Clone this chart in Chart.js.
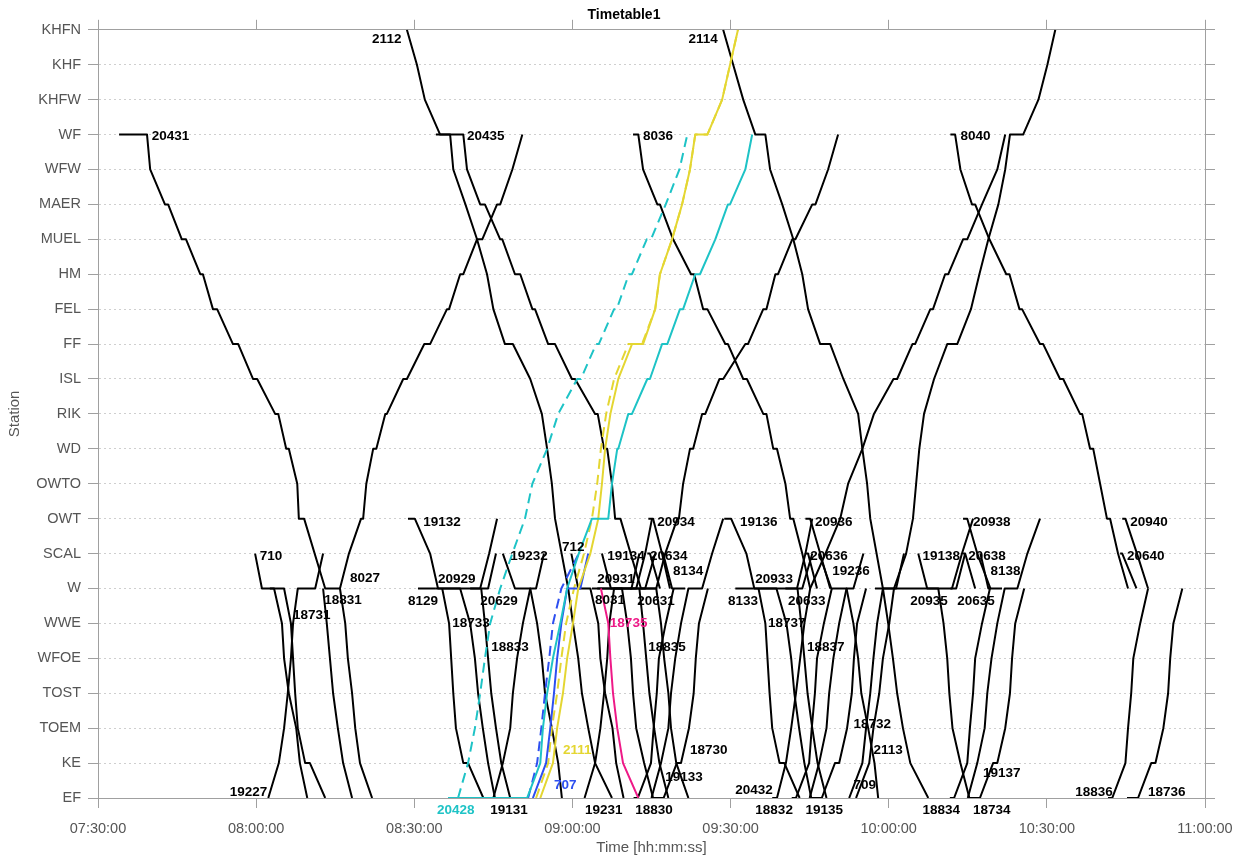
<!DOCTYPE html>
<html>
<head>
<meta charset="utf-8">
<title>Timetable1</title>
<script src="https://cdn.jsdelivr.net/npm/chart.js@4.4.1/dist/chart.umd.min.js"></script>
<style>
  html, body { margin: 0; padding: 0; background: #fff; }
</style>
</head>
<body>
<canvas id="timetable" width="1248" height="861"></canvas>
<script>
// stations, bottom (EF) to top (KHFN)
const stations = ["EF", "KE", "TOEM", "TOST", "WFOE", "WWE", "W", "SCAL", "OWT", "OWTO", "WD",
  "RIK", "ISL", "FF", "FEL", "HM", "MUEL", "MAER", "WFW", "WF", "KHFW", "KHF", "KHFN"];

const timeTicks = ["07:30:00", "08:00:00", "08:30:00", "09:00:00", "09:30:00", "10:00:00", "10:30:00", "11:00:00"];

// black train runs: [train, "STATION h:mm.m, ..."]
const blackRuns = [
  ["20431", "WF 7:34.0, WF 7:39.3, WFW 7:39.9, MAER 7:42.7, MAER 7:43.3, MUEL 7:45.9, MUEL 7:46.7, HM 7:49.4, HM 7:49.9, FEL 7:51.8, FEL 7:52.6, FF 7:55.6, FF 7:56.6, ISL 7:59.4, ISL 8:00.2, RIK 8:03.6, RIK 8:04.2, WD 8:05.7, WD 8:06.2, OWTO 8:07.8, OWT 8:08.1, OWT 8:09.1, W 8:13.1, W 8:15.9, WWE 8:16.9, WFOE 8:17.4, TOST 8:18.2, TOEM 8:18.8, KE 8:19.7, EF 8:22.0"],
  ["8027", "W 8:15.9, SCAL 8:17.6, OWT 8:19.9, OWT 8:20.3, OWTO 8:20.9, WD 8:22.2, WD 8:22.8, RIK 8:24.5, RIK 8:24.8, ISL 8:27.9, ISL 8:28.6, FF 8:31.9, FF 8:33.0, FEL 8:36.2, FEL 8:36.6, HM 8:38.7, HM 8:39.3, MUEL 8:41.9, MUEL 8:42.9, MAER 8:45.7, MAER 8:46.3, WFW 8:48.6, WF 8:50.5"],
  ["2112", "KHFN 8:28.6, KHF 8:30.5, KHFW 8:32.0, WF 8:34.9, WF 8:36.8, WFW 8:37.4, MAER 8:39.7, MUEL 8:41.9, HM 8:43.8, FEL 8:45.0, FF 8:47.2, FF 8:48.7, ISL 8:52.0, RIK 8:54.2, WD 8:55.2, OWTO 8:56.1, OWT 8:56.7, W 8:59.2, WWE 9:00.1, WFOE 9:01.1, TOST 9:01.8, TOEM 9:03.0, KE 9:04.3, EF 9:07.5"],
  ["20435", "WF 8:34.1, WF 8:39.3, WFW 8:40.0, MAER 8:42.5, MAER 8:43.4, MUEL 8:46.3, MUEL 8:46.7, HM 8:49.1, HM 8:50.1, FEL 8:52.4, FEL 8:52.9, FF 8:55.4, FF 8:56.7, ISL 8:59.9, ISL 9:00.5, RIK 9:04.3, RIK 9:04.8, WD 9:06.0, WD 9:06.6, OWTO 9:07.5, OWT 9:08.1, OWT 9:09.1, W 9:13.0, W 9:15.9, WWE 9:16.8, WFOE 9:17.4, TOST 9:18.2, TOEM 9:18.7, KE 9:19.7, EF 9:22.0"],
  ["8036", "WF 9:11.5, WF 9:12.5, WFW 9:13.4, MAER 9:16.1, MAER 9:16.6, MUEL 9:19.1, HM 9:22.5, HM 9:23.1, FEL 9:24.8, FEL 9:25.6, FF 9:29.0, FF 9:29.5, ISL 9:32.4, ISL 9:33.1, RIK 9:36.2, RIK 9:36.8, WD 9:38.1, WD 9:38.8, OWTO 9:40.4, OWT 9:41.3, OWT 9:41.9, SCAL 9:43.6, W 9:45.1"],
  ["2114", "KHFN 9:28.6, KHF 9:30.5, KHFW 9:32.4, WF 9:34.7, WF 9:36.6, WFW 9:37.5, MAER 9:39.8, MUEL 9:41.9, HM 9:43.6, FEL 9:44.7, FF 9:47.0, FF 9:48.9, ISL 9:51.4, RIK 9:54.2, WD 9:55.0, OWTO 9:55.9, OWT 9:56.5, W 9:58.9, WWE 9:59.9, WFOE 10:00.8, TOST 10:01.6, TOEM 10:02.7, KE 10:04.1, EF 10:07.5"],
  ["8031", "W 9:03.7, W 9:15.9, SCAL 9:17.6, OWT 9:19.9, OWT 9:20.2, OWTO 9:21.0, WD 9:22.3, WD 9:22.9, RIK 9:24.6, RIK 9:25.2, ISL 9:27.9, ISL 9:28.6, FF 9:32.8, FF 9:33.3, FEL 9:36.2, FEL 9:36.8, HM 9:38.5, HM 9:39.0, MUEL 9:41.7, MUEL 9:42.3, MAER 9:45.5, MAER 9:46.1, WFW 9:48.5, WF 9:50.4"],
  ["20432", "EF 9:37.9, EF 9:38.8, KE 9:40.5, TOEM 9:41.5, TOST 9:42.4, WFOE 9:43.2, WWE 9:44.0, W 9:45.1, SCAL 9:48.0, OWT 9:50.8, OWTO 9:52.3, WD 9:55.0, RIK 9:57.2, ISL 10:00.9, ISL 10:01.6, FF 10:04.5, FF 10:05.0, FEL 10:07.9, FEL 10:08.4, HM 10:10.7, HM 10:11.3, MUEL 10:14.1, MUEL 10:14.9, MAER 10:17.7, WFW 10:20.6, WF 10:22.1"],
  ["8040", "WF 10:11.7, WF 10:12.6, WFW 10:13.6, MAER 10:15.8, MAER 10:16.4, MUEL 10:19.1, HM 10:22.3, HM 10:22.9, FEL 10:24.8, FEL 10:25.3, FF 10:28.7, FF 10:29.3, ISL 10:32.5, ISL 10:33.1, RIK 10:36.3, RIK 10:36.7, WD 10:38.2, WD 10:38.8, OWTO 10:40.1, OWT 10:41.4, OWT 10:42.0, SCAL 10:43.5, W 10:45.4"],
  ["2113", "EF 9:53.8, KE 9:56.3, TOEM 9:57.1, TOST 9:58.2, WFOE 9:58.9, WWE 10:00.1, W 10:01.0, SCAL 10:03.3, OWT 10:04.6, OWTO 10:05.2, WD 10:05.8, RIK 10:06.7, ISL 10:08.6, FF 10:11.1, FF 10:13.0, FEL 10:15.6, HM 10:17.2, MUEL 10:18.9, MAER 10:20.8, WFW 10:22.1, WF 10:23.0, WF 10:25.5, KHFW 10:28.4, KHF 10:30.1, KHFN 10:31.6"],
  ["19227", "EF 8:02.3, KE 8:04.3, TOEM 8:05.3, TOST 8:06.0, WFOE 8:06.6, WWE 8:07.0, W 8:07.9, W 8:11.2, SCAL 8:12.7"],
  ["19231", "EF 9:02.3, KE 9:04.3, TOEM 9:05.3, TOST 9:06.0, WFOE 9:06.6, WWE 9:07.0, W 9:07.9, W 9:11.2, SCAL 9:12.7"],
  ["710", "SCAL 7:59.8, W 8:01.1, W 8:03.4, WWE 8:04.9, WFOE 8:05.3, TOST 8:06.2, TOEM 8:07.6, KE 8:08.3, EF 8:09.7"],
  ["712", "SCAL 8:59.8, W 9:01.1, W 9:03.4, WWE 9:04.9, WFOE 9:05.3, TOST 9:06.2, TOEM 9:07.6, KE 9:08.3, EF 9:09.7"],
  ["18731", "W 8:02.6, W 8:05.3, WWE 8:06.6, WFOE 8:07.0, TOST 8:07.4, TOEM 8:07.9, KE 8:09.3, KE 8:10.2, EF 8:13.1"],
  ["18733", "W 8:35.3, WWE 8:36.6, WFOE 8:37.0, TOST 8:37.4, TOEM 8:37.9, KE 8:39.3, KE 8:40.2, EF 8:43.1"],
  ["18737", "W 9:35.3, WWE 9:36.6, WFOE 9:37.0, TOST 9:37.4, TOEM 9:37.9, KE 9:39.3, KE 9:40.2, EF 9:43.1"],
  ["18831", "W 8:12.7, WWE 8:13.4, WFOE 8:14.0, TOST 8:14.6, TOEM 8:15.5, KE 8:16.5, EF 8:18.2"],
  ["18833", "W 8:42.7, WWE 8:43.4, WFOE 8:44.0, TOST 8:44.6, TOEM 8:45.5, KE 8:46.5, EF 8:48.2"],
  ["18835", "W 9:12.7, WWE 9:13.4, WFOE 9:14.0, TOST 9:14.6, TOEM 9:15.5, KE 9:16.5, EF 9:18.2"],
  ["18837", "W 9:42.7, WWE 9:43.4, WFOE 9:44.0, TOST 9:44.6, TOEM 9:45.5, KE 9:46.5, EF 9:48.2"],
  ["19131", "EF 8:45.0, KE 8:46.8, TOEM 8:48.2, TOST 8:48.7, WFOE 8:49.5, WWE 8:50.6, W 8:52.0, W 8:53.1, SCAL 8:54.6"],
  ["19133", "EF 9:15.0, KE 9:16.8, TOEM 9:18.2, TOST 9:18.7, WFOE 9:19.5, WWE 9:20.6, W 9:22.0, W 9:24.6, SCAL 9:26.5, OWT 9:28.6"],
  ["19135", "EF 9:45.0, KE 9:46.8, TOEM 9:48.2, TOST 9:48.7, WFOE 9:49.5, WWE 9:50.6, W 9:52.0, W 9:53.3, SCAL 9:55.2"],
  ["19137", "EF 10:15.0, KE 10:16.8, TOEM 10:18.2, TOST 10:18.7, WFOE 10:19.5, WWE 10:20.6, W 10:22.0, W 10:24.4, SCAL 10:26.3, OWT 10:28.7"],
  ["19132", "OWT 8:28.8, OWT 8:30.1, SCAL 8:33.0, W 8:34.5, W 8:38.7, WWE 8:40.6, WFOE 8:41.5, TOST 8:42.1, TOEM 8:43.0, KE 8:44.0, EF 8:45.3"],
  ["19136", "OWT 9:28.8, OWT 9:30.1, SCAL 9:33.0, W 9:34.5, W 9:38.7, WWE 9:40.6, WFOE 9:41.5, TOST 9:42.1, TOEM 9:43.0, KE 9:44.0, EF 9:45.3"],
  ["19232", "SCAL 8:46.8, W 8:49.1, W 8:52.0, WWE 8:53.3, WFOE 8:54.2, TOST 8:54.8, TOEM 8:56.1, KE 8:57.3, EF 8:58.0"],
  ["19236", "SCAL 9:46.8, W 9:49.1, W 9:52.0, WWE 9:53.3, WFOE 9:54.2, TOST 9:54.8, TOEM 9:56.1, KE 9:57.3, EF 9:58.0"],
  ["19134", "SCAL 9:05.6, W 9:07.3, W 9:09.4, WWE 9:10.4, WFOE 9:11.1, TOST 9:11.5, TOEM 9:12.1, KE 9:13.6, EF 9:15.3"],
  ["19138", "SCAL 10:05.6, W 10:07.3, W 10:09.4, WWE 10:10.4, WFOE 10:11.1, TOST 10:11.5, TOEM 10:12.1, KE 10:13.6, EF 10:15.3"],
  ["18830", "EF 9:11.6, EF 9:12.4, KE 9:14.9, TOEM 9:15.4, TOST 9:16.0, WFOE 9:16.4, WWE 9:17.7, W 9:19.2"],
  ["18832", "EF 9:41.6, EF 9:42.4, KE 9:44.9, TOEM 9:45.4, TOST 9:46.0, WFOE 9:46.4, WWE 9:47.7, W 9:49.2"],
  ["18834", "EF 10:11.6, EF 10:12.4, KE 10:14.9, TOEM 10:15.4, TOST 10:16.0, WFOE 10:16.4, WWE 10:17.7, W 10:19.2"],
  ["18836", "EF 10:41.6, EF 10:42.4, KE 10:44.9, TOEM 10:45.4, TOST 10:46.0, WFOE 10:46.4, WWE 10:47.7, W 10:49.2"],
  ["18730", "EF 9:15.2, EF 9:17.3, KE 9:19.8, KE 9:20.6, TOEM 9:22.1, TOST 9:23.0, WFOE 9:23.4, WWE 9:24.0, W 9:25.7"],
  ["18732", "EF 9:45.2, EF 9:47.3, KE 9:49.8, KE 9:50.6, TOEM 9:52.1, TOST 9:53.0, WFOE 9:53.4, WWE 9:54.0, W 9:55.7"],
  ["18734", "EF 10:15.2, EF 10:17.3, KE 10:19.8, KE 10:20.6, TOEM 10:22.1, TOST 10:23.0, WFOE 10:23.4, WWE 10:24.0, W 10:25.7"],
  ["18736", "EF 10:45.2, EF 10:47.3, KE 10:49.8, KE 10:50.6, TOEM 10:52.1, TOST 10:53.0, WFOE 10:53.4, WWE 10:54.0, W 10:55.7"],
  ["709", "EF 9:52.5, KE 9:55.0, TOEM 9:55.7, TOST 9:56.5, WFOE 9:57.1, WWE 9:57.8, W 9:58.9, W 10:01.4, SCAL 10:02.9"],
  ["20929", "W 8:34.1, W 8:42.5, SCAL 8:44.2, OWT 8:45.7"],
  ["20931", "W 9:04.7, W 9:12.1, SCAL 9:13.8, OWT 9:15.1"],
  ["20933", "W 9:34.3, W 9:42.6, SCAL 9:44.2, OWT 9:45.5"],
  ["20935", "W 9:57.4, W 10:12.0, SCAL 10:13.9, OWT 10:16.0"],
  ["20629", "W 8:40.6, W 8:44.0, SCAL 8:45.5"],
  ["20631", "W 9:10.9, W 9:13.8, SCAL 9:15.7"],
  ["20633", "W 9:40.4, W 9:43.6, SCAL 9:45.5"],
  ["20635", "W 10:11.7, W 10:12.8, SCAL 10:14.5"],
  ["20934", "OWT 9:14.4, OWT 9:15.3, SCAL 9:17.0, W 9:18.5"],
  ["20936", "OWT 9:44.2, OWT 9:45.1, SCAL 9:47.0, W 9:48.9"],
  ["20938", "OWT 10:14.1, OWT 10:14.9, SCAL 10:16.8, W 10:19.3"],
  ["20940", "OWT 10:44.3, OWT 10:44.9, SCAL 10:47.1, W 10:49.2"],
  ["20634", "SCAL 9:14.2, SCAL 9:14.7, W 9:16.6"],
  ["20636", "SCAL 9:44.3, SCAL 9:44.7, W 9:46.4"],
  ["20638", "SCAL 10:14.1, SCAL 10:14.5, W 10:16.4"],
  ["20640", "SCAL 10:43.9, SCAL 10:44.3, W 10:47.0"],
  ["8129", "W 8:30.7, W 8:34.1"],
  ["8133", "W 9:30.9, W 9:34.3"],
  ["8134", "SCAL 9:17.2, W 9:18.9, W 9:21.4"],
  ["8138", "SCAL 10:17.4, W 10:18.9, W 10:21.5"]
];

// highlighted trains: planned (dashed) and actual (solid) runs
const plannedRuns = [
  ["20428", "EF 8:38.3, KE 8:40.2, TOEM 8:41.5, TOST 8:42.5, WFOE 8:43.4, WWE 8:44.4, W 8:46.3, SCAL 8:48.6, OWT 8:51.0, OWTO 8:52.4, WD 8:55.2, RIK 8:57.3, ISL 9:00.9, ISL 9:01.6, FF 9:04.5, FF 9:05.0, FEL 9:07.9, FEL 9:08.4, HM 9:10.7, HM 9:11.3, MUEL 9:14.1, MUEL 9:14.9, MAER 9:17.7, WFW 9:20.3, WF 9:21.8"],
  ["2111", "EF 8:53.1, KE 8:55.4, TOEM 8:56.1, TOST 8:57.1, WFOE 8:57.9, WWE 8:58.8, W 9:00.3, SCAL 9:02.2, OWT 9:03.7, OWTO 9:04.7, WD 9:05.4, RIK 9:06.4, ISL 9:07.9, FF 9:10.6, FF 9:13.2, FEL 9:15.7, HM 9:16.6, MUEL 9:18.9, MAER 9:20.8, WFW 9:22.3, WF 9:23.3, WF 9:25.6, KHFW 9:28.4, KHF 9:29.9, KHFN 9:31.4"],
  ["707", "EF 8:51.6, KE 8:53.3, TOEM 8:54.1, TOST 8:54.8, WFOE 8:55.6, WWE 8:56.3, W 8:57.9, SCAL 9:01.2"]
];

const actualRuns = [
  ["20428", "EF 8:36.4, EF 8:51.4, KE 8:53.9, TOEM 8:54.4, TOST 8:55.2, WFOE 8:56.3, WWE 8:57.7, W 8:59.0, SCAL 9:01.2, OWT 9:03.7, OWT 9:06.8, OWTO 9:07.5, WD 9:08.5, WD 9:08.7, RIK 9:10.6, RIK 9:11.3, ISL 9:14.2, ISL 9:14.7, FF 9:17.0, FF 9:18.0, FEL 9:20.4, FEL 9:21.0, HM 9:23.3, HM 9:24.2, MUEL 9:27.1, MAER 9:29.5, MAER 9:29.9, WFW 9:32.8, WF 9:34.1"],
  ["2111", "EF 8:53.9, KE 8:56.3, TOEM 8:57.1, TOST 8:58.2, WFOE 8:59.0, WWE 9:00.1, W 9:01.1, SCAL 9:03.4, OWT 9:04.9, OWTO 9:05.6, WD 9:06.2, RIK 9:07.2, ISL 9:08.7, FF 9:11.3, FF 9:13.4, FEL 9:15.7, HM 9:16.6, MUEL 9:18.9, MAER 9:20.8, WFW 9:22.3, WF 9:23.3, WF 9:25.6, KHFW 9:28.4, KHF 9:29.9, KHFN 9:31.4"],
  ["707", "EF 8:52.5, KE 8:55.0, TOEM 8:55.8, TOST 8:56.5, WFOE 8:57.1, WWE 8:57.9, W 8:59.0, W 9:01.5, SCAL 9:03.0"],
  ["18735", "W 9:05.4, WWE 9:06.8, WFOE 9:07.2, TOST 9:07.7, TOEM 9:08.5, KE 9:09.6, EF 9:12.5"]
];

const highlight = { "20428": "#1ec3c6", "2111": "#e4d632", "707": "#2d4ff0", "18735": "#ee1987" };

// train number labels: [text, time, level on the station axis]
const trainLabels = [
  ["2112", "8:22.0", 21.72], ["2114", "9:22.0", 21.72],
  ["20431", "7:40.2", 18.94], ["20435", "8:40.0", 18.94], ["8036", "9:13.4", 18.94], ["8040", "10:13.6", 18.94],
  ["19132", "8:31.7", 7.91], ["20934", "9:16.1", 7.91], ["19136", "9:31.8", 7.91], ["20936", "9:46.0", 7.91],
  ["20938", "10:16.0", 7.91], ["20940", "10:45.8", 7.91],
  ["710", "8:00.7", 6.91], ["19232", "8:48.2", 6.91], ["712", "8:58.0", 7.19], ["19134", "9:06.6", 6.91],
  ["20634", "9:14.7", 6.91], ["20636", "9:45.1", 6.91], ["19138", "10:06.4", 6.91], ["20638", "10:15.1", 6.91],
  ["20640", "10:45.2", 6.91],
  ["8027", "8:17.8", 6.28], ["20929", "8:34.5", 6.25], ["20931", "9:04.7", 6.25], ["8134", "9:19.1", 6.48],
  ["20933", "9:34.7", 6.25], ["19236", "9:49.3", 6.48], ["8138", "10:19.3", 6.48],
  ["18831", "8:12.9", 5.67], ["8129", "8:28.8", 5.62], ["20629", "8:42.5", 5.62], ["8031", "9:04.3", 5.67],
  ["20631", "9:12.3", 5.62], ["8133", "9:29.5", 5.62], ["20633", "9:40.9", 5.62], ["20935", "10:04.1", 5.62],
  ["20635", "10:13.0", 5.62],
  ["18731", "8:07.0", 5.24], ["18733", "8:37.2", 4.99], ["18735", "9:07.1", 4.99], ["18737", "9:37.1", 4.99],
  ["18833", "8:44.6", 4.33], ["18835", "9:14.4", 4.33], ["18837", "9:44.5", 4.33],
  ["18732", "9:53.3", 2.12],
  ["2111", "8:58.2", 1.38], ["18730", "9:22.3", 1.38], ["2113", "9:57.1", 1.38],
  ["19133", "9:17.6", 0.60], ["19137", "10:17.9", 0.72],
  ["707", "8:56.5", 0.37], ["709", "9:53.3", 0.37],
  ["19227", "7:55.0", 0.17], ["20432", "9:30.9", 0.23], ["18836", "10:35.4", 0.17], ["18736", "10:49.2", 0.17],
  ["20428", "8:34.3", -0.34], ["19131", "8:44.4", -0.34], ["19231", "9:02.4", -0.34], ["18830", "9:11.9", -0.34],
  ["18832", "9:34.7", -0.34], ["19135", "9:44.2", -0.34], ["18834", "10:06.4", -0.34], ["18734", "10:16.0", -0.34]
];

const FONT = "'Liberation Sans', Arial, Helvetica, sans-serif";

function toMinutes(t) {
  const [h, m] = t.split(":");
  return Number(h) * 60 + parseFloat(m);
}

function parseRun(run) {
  return run.split(",").map((stop) => {
    const [station, time] = stop.trim().split(/\s+/);
    return { x: toMinutes(time), y: stations.indexOf(station) };
  });
}

function lineDataset(label, run, colour, dash) {
  return {
    label: label,
    data: parseRun(run),
    borderColor: colour,
    borderWidth: 2,
    borderDash: dash,
    pointRadius: 0,
    fill: false,
    tension: 0,
    borderJoinStyle: "round",
  };
}

// first datasets are drawn on top, so the coloured runs go first
const datasets = [
  ...actualRuns.map(([n, r]) => lineDataset(n, r, highlight[n], [])),
  ...plannedRuns.map(([n, r]) => lineDataset(n + " plan", r, highlight[n], [10, 6])),
  ...blackRuns.map(([n, r]) => lineDataset(n, r, "#000000", [])),
];

const trainLabelPlugin = {
  id: "trainLabels",
  afterDatasetsDraw(chart) {
    const { ctx, scales } = chart;
    ctx.save();
    ctx.font = "bold 13.5px " + FONT;
    ctx.textAlign = "left";
    ctx.textBaseline = "middle";
    trainLabels.forEach(([text, time, level]) => {
      ctx.fillStyle = highlight[text] || "#000000";
      ctx.fillText(text, scales.x.getPixelForValue(toMinutes(time)), scales.y.getPixelForValue(level));
    });
    ctx.restore();
  },
};

const tickFont = { family: FONT, size: 14.5 };
const titleFont = { family: FONT, size: 15 };
const frame = "#a0a0a0";

new Chart(document.getElementById("timetable"), {
  type: "line",
  data: { datasets: datasets },
  options: {
    responsive: false,
    animation: false,
    events: [],
    layout: { padding: 0 },
    plugins: {
      legend: { display: false },
      tooltip: { enabled: false },
      title: {
        display: true,
        text: "Timetable1",
        color: "#000",
        font: { family: FONT, size: 14, weight: "bold" },
        padding: { top: 7, bottom: 0 },
      },
    },
    scales: {
      x: {
        type: "linear",
        position: "bottom",
        min: 450,
        max: 660,
        ticks: {
          stepSize: 30,
          color: "#555",
          font: tickFont,
          padding: 12,
          maxRotation: 0,
          callback: (v) => timeTicks[Math.round((v - 450) / 30)],
        },
        grid: { drawOnChartArea: false, tickLength: 10, tickColor: frame },
        border: { color: frame },
        title: { display: true, text: "Time [hh:mm:ss]", color: "#555", font: titleFont, padding: { top: 0, bottom: 4 } },
        afterFit: (s) => { s.height = 63; },
      },
      xTop: {
        type: "linear",
        position: "top",
        min: 450,
        max: 660,
        ticks: { display: false, stepSize: 30 },
        grid: { drawOnChartArea: false, tickLength: 10, tickColor: frame },
        border: { color: frame },
        afterFit: (s) => { s.height = 6; },
      },
      y: {
        type: "linear",
        position: "left",
        min: 0,
        max: 22,
        ticks: {
          stepSize: 1,
          autoSkip: false,
          color: "#555",
          font: tickFont,
          padding: 7,
          callback: (v) => stations[v],
        },
        grid: { color: "#cfcfcf", lineWidth: 1, tickLength: 10, tickColor: frame, tickBorderDash: [] },
        border: { color: frame, dash: [2, 3] },
        title: { display: true, text: "Station", color: "#555", font: titleFont, padding: { top: 6, bottom: 0 } },
        afterFit: (s) => { s.width = 98; },
      },
      yRight: {
        type: "linear",
        position: "right",
        min: 0,
        max: 22,
        ticks: { display: false, stepSize: 1, autoSkip: false },
        grid: { drawOnChartArea: false, tickLength: 10, tickColor: frame },
        border: { color: frame },
        afterFit: (s) => { s.width = 43; },
      },
    },
  },
  plugins: [trainLabelPlugin],
});
</script>
</body>
</html>
